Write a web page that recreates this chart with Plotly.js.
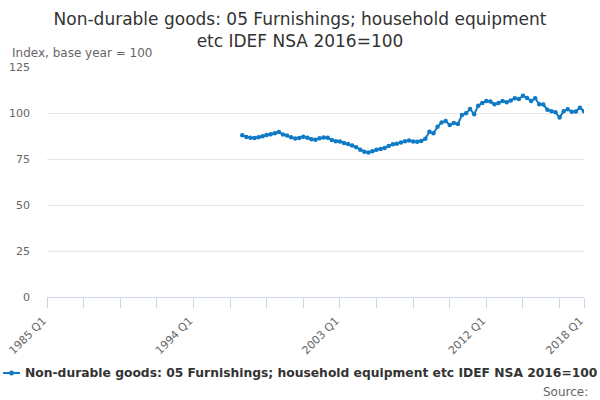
<!DOCTYPE html>
<html>
<head>
<meta charset="utf-8">
<script src="https://cdn.plot.ly/plotly-3.0.1.min.js"></script>
<style>html,body{margin:0;padding:0;background:#fff;}#chart{width:600px;height:400px;}</style>
</head>
<body>
<div id="chart"></div>
<script>
// Axis span (quarterly categories)
var axisStartYear = 1985;
var axisEndYear = 2018; // ends at 2018 Q1
// Series start
var seriesStart = "1997 Q1";
// Index values, 1997 Q1 .. 2018 Q1
var values = [
  87.9, 87.0, 86.5, 86.4, 86.8, 87.3, 88.0, 88.5, 89.0, 89.7,
  88.3, 87.8, 86.8, 86.2, 86.4, 87.1, 86.5, 85.8, 85.4, 86.3,
  86.7, 86.5, 85.3, 84.6, 84.5, 83.7, 83.2, 82.3, 81.4, 80.0,
  79.0, 78.6, 79.2, 80.0, 80.4, 81.0, 82.0, 83.0, 83.3, 84.0,
  84.6, 85.0, 84.5, 84.4, 84.8, 86.0, 89.8, 89.0, 92.5, 94.9,
  95.6, 93.5, 94.5, 94.0, 98.9, 99.8, 102.2, 99.3, 104.0, 105.5,
  106.5, 106.2, 104.7, 105.5, 106.5, 105.8, 106.8, 108.0, 107.6, 109.4,
  108.2, 106.5, 108.0, 104.7, 104.6, 101.8, 101.0, 100.4, 97.5, 101.0,
  102.0, 100.7, 100.8, 102.9, 101.0
];
var labeledTicks = ["1985 Q1", "1994 Q1", "2003 Q1", "2012 Q1", "2018 Q1"];
var seriesName = "Non-durable goods: 05 Furnishings; household equipment etc IDEF NSA 2016=100";
var yTicks = [0, 25, 50, 75, 100, 125];
var lineColor = "#0f7ac6";

// all quarter categories on the axis
var quarters = [];
for (var y = axisStartYear; y <= axisEndYear; y++) {
  for (var q = 1; q <= 4; q++) {
    quarters.push(y + " Q" + q);
    if (y === axisEndYear) break;
  }
}
var startIdx = quarters.indexOf(seriesStart);
var xs = quarters.slice(startIdx, startIdx + values.length);

// tick marks every 9 quarters plus the last
var tickvals = [], ticktext = [];
for (var i = 0; i < quarters.length; i += 9) tickvals.push(quarters[i]);
if (tickvals[tickvals.length - 1] !== quarters[quarters.length - 1]) tickvals.push(quarters[quarters.length - 1]);
tickvals.forEach(function (t) { ticktext.push(labeledTicks.indexOf(t) >= 0 ? t : ""); });

var trace = {
  x: xs, y: values, type: "scatter", mode: "lines+markers",
  name: seriesName,
  line: {color: lineColor, width: 2},
  marker: {color: lineColor, size: 4.5, symbol: "circle"},
  hoverinfo: "x+y"
};

var legendY = -0.3304;
var layout = {
  width: 600, height: 400,
  margin: {l: 47, r: 16, t: 67, b: 103},
  paper_bgcolor: "#fff", plot_bgcolor: "#fff",
  font: {family: "DejaVu Sans, sans-serif", color: "#666", size: 11},
  title: {
    text: "Non-durable goods: 05 Furnishings; household equipment<br>etc IDEF NSA 2016=100",
    font: {family: "DejaVu Sans, sans-serif", size: 17, color: "#333"},
    xref: "container", yref: "container",
    x: 0.5, xanchor: "center", y: 0.937, yanchor: "top"
  },
  xaxis: {
    type: "category", categoryorder: "array", categoryarray: quarters,
    range: [0, quarters.length - 1], automargin: false,
    tickmode: "array", tickvals: tickvals, ticktext: ticktext,
    tickangle: -45, ticks: "outside", ticklen: 10, tickcolor: "#ccd6eb", tickwidth: 1,
    ticklabelshift: -4, ticklabelstandoff: 2,
    showline: true, linecolor: "#ccd6eb", linewidth: 1,
    showgrid: false, zeroline: false,
    tickfont: {size: 11, color: "#666"}
  },
  yaxis: {
    range: [0, 125], tickmode: "array", tickvals: yTicks, automargin: false,
    showgrid: true, gridcolor: "#e6e6e6", gridwidth: 1,
    zeroline: false, showline: false, ticks: "", ticklabelstandoff: 16,
    tickfont: {size: 11, color: "#666"}
  },
  showlegend: false,
  shapes: [
    {type: "line", xref: "paper", yref: "paper", x0: -0.0819, x1: -0.0503, y0: legendY, y1: legendY,
     line: {color: lineColor, width: 2}},
    {type: "circle", xref: "paper", yref: "paper", xsizemode: "pixel", ysizemode: "pixel",
     xanchor: -0.0661, yanchor: legendY, x0: -2.5, x1: 2.5, y0: -2.5, y1: 2.5,
     fillcolor: lineColor, line: {width: 0}}
  ],
  annotations: [
    {text: "<b>" + seriesName + "</b>", xref: "paper", yref: "paper", x: -0.0445, y: legendY,
     xanchor: "left", yanchor: "middle", showarrow: false,
     font: {family: "DejaVu Sans, sans-serif", size: 12.3, color: "#333"}},
    {text: "Index, base year = 100", xref: "paper", yref: "paper", x: -0.068, y: 1.063,
     xanchor: "left", yanchor: "middle", showarrow: false, font: {size: 12, color: "#666"}},
    {text: "Source:", xref: "paper", yref: "paper", x: 1.011, y: -0.412,
     xanchor: "right", yanchor: "middle", showarrow: false, font: {size: 12, color: "#666"}}
  ]
};

Plotly.newPlot("chart", [trace], layout, {displayModeBar: false, staticPlot: true});
</script>
</body>
</html>
